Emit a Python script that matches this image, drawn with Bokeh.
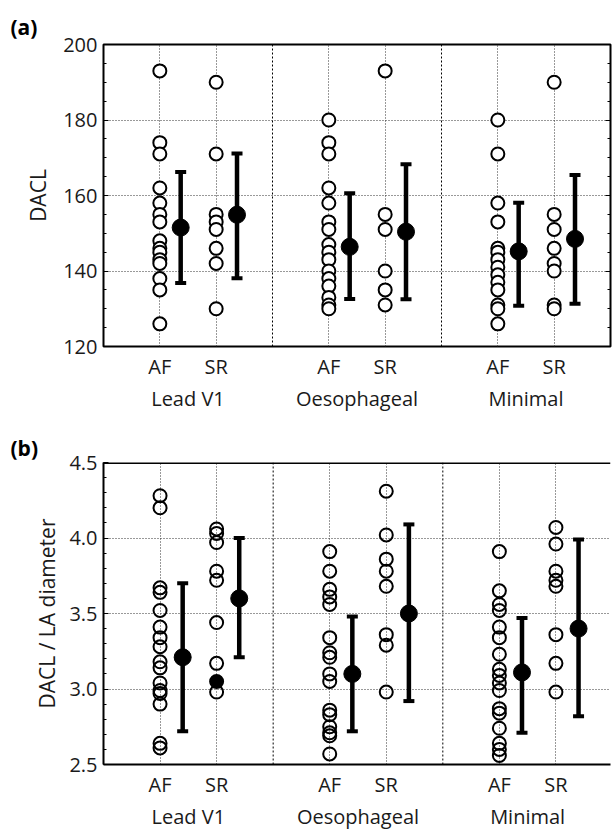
from bokeh.plotting import figure
from bokeh.layouts import column
from bokeh.models import FixedTicker, LinearAxis, Range1d, Span, Title
from bokeh.embed import file_html
from bokeh.resources import INLINE

groups = ["Lead V1", "Oesophageal", "Minimal"]
rhythms = ["AF", "SR"]

# ---- panel (a): DACL ----
a_lead_af = [193, 174, 171, 162, 158, 155, 153, 148, 146, 145, 143, 142, 138, 135, 126]
a_lead_sr = [190, 171, 155, 153, 151, 146, 142, 130]
a_oes_af = [180, 174, 171, 162, 158, 153, 151, 147, 145, 143, 140, 138, 136, 133, 131, 130]
a_oes_sr = [193, 155, 151, 140, 135, 131]
a_min_af = [180, 171, 158, 153, 146, 145, 143, 141, 139, 137, 135, 131, 130, 126]
a_min_sr = [190, 155, 151, 146, 142, 140, 131, 130]
# order: Lead AF, Lead SR, Oes AF, Oes SR, Min AF, Min SR
a_mean = [151.5, 154.9, 146.4, 150.4, 145.2, 148.5]
a_upper = [166.2, 171.1, 160.6, 168.3, 158.1, 165.4]
a_lower = [136.8, 138.1, 132.6, 132.5, 130.8, 131.3]
a_yticks = [120, 140, 160, 180, 200]

# ---- panel (b): DACL / LA diameter ----
b_lead_af = [4.28, 4.20, 3.67, 3.64, 3.52, 3.41, 3.34, 3.28, 3.18, 3.14, 3.04, 2.99, 2.97, 2.90, 2.64, 2.61]
b_lead_sr = [4.06, 4.03, 3.97, 3.78, 3.72, 3.44, 3.17, 2.98]
b_lead_sr_filled = [3.05]
b_oes_af = [3.91, 3.78, 3.66, 3.61, 3.56, 3.34, 3.24, 3.21, 3.10, 3.05, 2.86, 2.83, 2.75, 2.71, 2.69, 2.57]
b_oes_sr = [4.31, 4.02, 3.86, 3.78, 3.68, 3.36, 3.29, 2.98]
b_min_af = [3.91, 3.65, 3.56, 3.52, 3.41, 3.34, 3.23, 3.13, 3.09, 3.04, 2.99, 2.87, 2.84, 2.74, 2.64, 2.60, 2.56]
b_min_sr = [4.07, 3.96, 3.78, 3.72, 3.68, 3.36, 3.17, 2.98]
b_mean = [3.21, 3.60, 3.10, 3.50, 3.11, 3.40]
b_upper = [3.70, 4.00, 3.48, 4.09, 3.47, 3.99]
b_lower = [2.72, 3.21, 2.72, 2.92, 2.71, 2.82]
b_yticks = [2.5, 3.0, 3.5, 4.0, 4.5]
b_ylabels = ["2.5", "3.0", "3.5", "4.0", "4.5"]

FONT = "Open Sans"
TXT = "#1a1a1a"

# category positions: each group occupies 3 units, AF at +1, SR at +2
cat_x = [3 * gi + ri + 1 for gi in range(len(groups)) for ri in range(len(rhythms))]
group_x = [3 * gi + 1.5 for gi in range(len(groups))]
sep_x = [3 * gi for gi in range(1, len(groups))]


def make_panel(series, means, uppers, lowers, yticks, ylabels, minor_step, ylab, tag,
               fill, mean_off, height, b_top, b_bottom, b_right, x_end, right_axis,
               title_standoff, s1, s2, lab_standoff, lab_offset=None, open_right=False,
               extra_filled=None):
    p = figure(width=613, height=height, x_range=Range1d(0, x_end),
               y_range=Range1d(yticks[0], yticks[-1]),
               output_backend="svg", toolbar_location=None,
               min_border_left=103, min_border_right=b_right,
               min_border_top=b_top, min_border_bottom=b_bottom, title=tag)
    p.title.align = "left"
    p.title.offset = -93
    p.title.standoff = title_standoff
    p.title.text_font = FONT
    p.title.text_font_size = "21px"
    p.title.text_font_style = "bold"
    p.title.text_color = "black"

    p.background_fill_color = "white"
    p.border_fill_color = "white"
    if open_right:
        p.outline_line_color = None
    else:
        p.outline_line_color = "black"
        p.outline_line_width = 2

    # grids
    p.xgrid.ticker = FixedTicker(ticks=cat_x)
    p.xgrid.grid_line_color = "#333333"
    p.xgrid.grid_line_dash = "1 2"
    p.xgrid.grid_line_width = 1
    p.ygrid.ticker = FixedTicker(ticks=yticks)
    p.ygrid.grid_line_color = "#333333"
    p.ygrid.grid_line_dash = "1 2"
    p.ygrid.grid_line_width = 1
    for s in sep_x:
        p.add_layout(Span(location=s, dimension="height", line_color="black",
                          line_dash="2 2", line_width=1))
    if open_right:
        p.add_layout(Span(location=yticks[-1], dimension="width", line_color="black",
                          line_width=3))

    minors = []
    v = yticks[0]
    while v <= yticks[-1] + 1e-9:
        minors.append(round(v, 4))
        v += minor_step
    yt = FixedTicker(ticks=yticks, minor_ticks=minors)

    # left axis
    ya = p.yaxis[0]
    ya.ticker = yt
    ya.major_label_overrides = {t: l for t, l in zip(yticks, ylabels)}
    if open_right:
        ya.axis_line_color = "black"
        ya.axis_line_width = 2
    else:
        ya.axis_line_color = None
    ya.major_tick_in = 5
    ya.major_tick_out = 0
    ya.minor_tick_in = 3
    ya.minor_tick_out = 0
    ya.major_tick_line_color = "black"
    ya.minor_tick_line_color = "black"
    ya.major_label_standoff = 6
    ya.major_label_text_font = FONT
    ya.major_label_text_font_size = "20px"
    ya.major_label_text_color = TXT
    if lab_offset is None:
        ya.axis_label = ylab
        ya.axis_label_text_font = FONT
        ya.axis_label_text_font_size = "21px"
        ya.axis_label_text_font_style = "normal"
        ya.axis_label_text_color = TXT
        ya.axis_label_standoff = lab_standoff
    else:
        p.add_layout(Title(text=ylab, align="center", offset=lab_offset,
                           standoff=lab_standoff, text_font=FONT, text_font_size="21px",
                           text_font_style="normal", text_color=TXT), "left")

    if right_axis:
        ra = LinearAxis(ticker=yt, axis_line_color=None, major_tick_in=5, major_tick_out=0,
                        minor_tick_in=3, minor_tick_out=0, major_label_standoff=0,
                        major_label_overrides={t: "" for t in yticks},
                        major_tick_line_color="black", minor_tick_line_color="black")
        p.add_layout(ra, "right")

    # bottom axis: AF / SR
    xa = p.xaxis[0]
    xa.ticker = FixedTicker(ticks=cat_x)
    xa.major_label_overrides = {float(x): rhythms[i % 2] for i, x in enumerate(cat_x)}
    if open_right:
        xa.axis_line_color = "black"
        xa.axis_line_width = 2
    else:
        xa.axis_line_color = None
    xa.major_tick_line_color = None
    xa.minor_tick_line_color = None
    xa.major_tick_out = 0
    xa.major_tick_in = 0
    xa.major_label_standoff = s1
    xa.major_label_text_font = FONT
    xa.major_label_text_font_size = "20px"
    xa.major_label_text_color = TXT

    # second row: method groups
    ga = LinearAxis(ticker=FixedTicker(ticks=group_x),
                    major_label_overrides={float(x): g for x, g in zip(group_x, groups)},
                    axis_line_color=None, major_tick_line_color=None,
                    minor_tick_line_color=None, major_tick_out=0, major_tick_in=0,
                    major_label_standoff=s2,
                    major_label_text_font=FONT, major_label_text_font_size="20px",
                    major_label_text_color=TXT)
    p.add_layout(ga, "below")

    # individual points
    for xi, vals in zip(cat_x, series):
        p.scatter([xi] * len(vals), vals, marker="circle", size=13,
                  fill_color=fill, line_color="black", line_width=2)
    if extra_filled:
        xi, vals = extra_filled
        p.scatter([xi] * len(vals), vals, marker="circle", size=13,
                  fill_color="black", line_color="black", line_width=2)

    # mean +/- error bars
    xm = [x + mean_off for x in cat_x]
    p.segment(x0=xm, y0=lowers, x1=xm, y1=uppers, line_color="black", line_width=4.5)
    p.rect(x=xm, y=uppers, width=11, height=4, width_units="screen", height_units="screen",
           fill_color="black", line_color=None)
    p.rect(x=xm, y=lowers, width=11, height=4, width_units="screen", height_units="screen",
           fill_color="black", line_color=None)
    p.scatter(xm, means, marker="circle", size=17, fill_color="black", line_color="black")
    return p


pa = make_panel([a_lead_af, a_lead_sr, a_oes_af, a_oes_sr, a_min_af, a_min_sr],
                a_mean, a_upper, a_lower, a_yticks, [str(t) for t in a_yticks], 5,
                "DACL", "(a)", "white", 0.37, 416, 44, 70, 3, 9, True, 7, 6, 2, 8)

pb = make_panel([b_lead_af, b_lead_sr, b_oes_af, b_oes_sr, b_min_af, b_min_sr],
                b_mean, b_upper, b_lower, b_yticks, b_ylabels, 0.1,
                "DACL / LA diameter", "(b)", None, 0.4, 417, 46, 69, 0, 8.965,
                False, 1, 6, 2, 12, lab_offset=-24, open_right=True,
                extra_filled=(cat_x[1], b_lead_sr_filled))

layout = column(pa, pb)
open("out.html", "w").write(file_html(layout, INLINE))
